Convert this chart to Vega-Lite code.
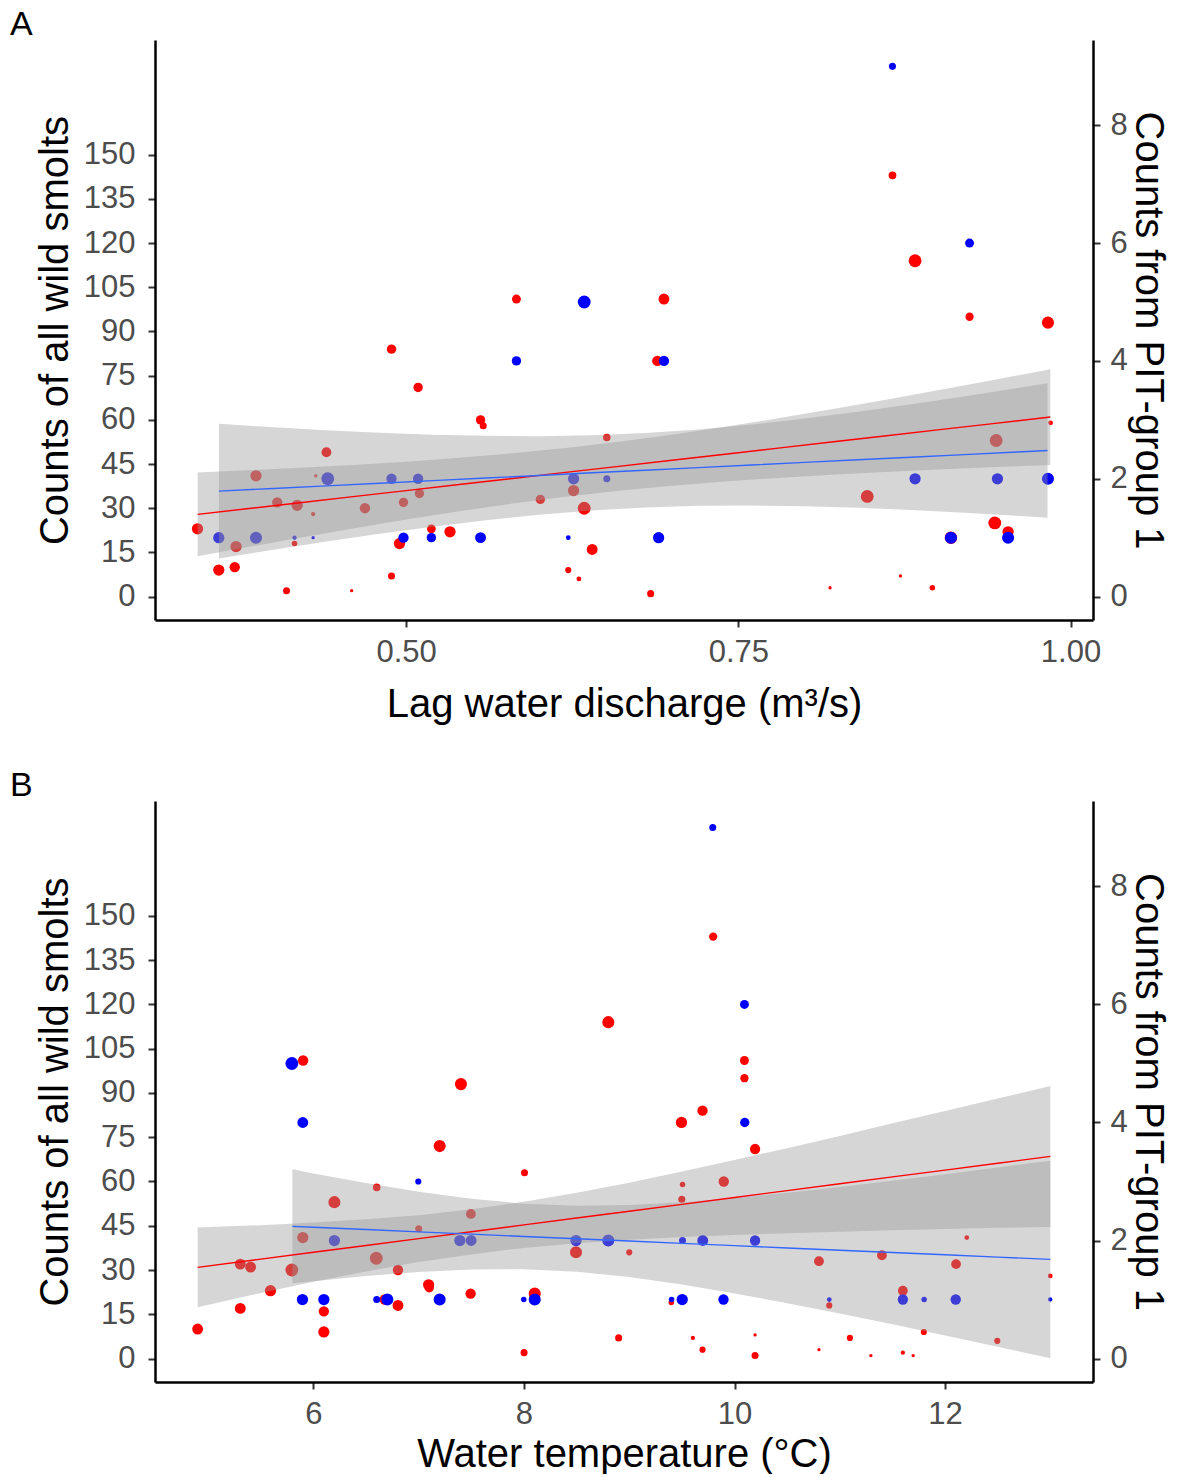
{
  "$schema": "https://vega.github.io/schema/vega-lite/v6.json",
  "padding": {"left": 10, "top": 8, "right": 0, "bottom": 0},
  "background": "white",
  "spacing": 45,
  "config": {
    "view": {"stroke": null},
    "font": "Liberation Sans",
    "axis": {
      "grid": false,
      "domainColor": "black",
      "domainWidth": 2.5,
      "tickColor": "#333333",
      "tickWidth": 2,
      "tickSize": 7,
      "labelFont": "Liberation Sans",
      "labelFontSize": 31,
      "labelColor": "#4D4D4D",
      "labelPadding": 10,
      "titleFont": "Liberation Sans",
      "titleFontSize": 40,
      "titleFontWeight": "normal",
      "titleColor": "black",
      "titlePadding": 12
    },
    "axisLeft": {"labelPadding": 13, "titlePadding": 8},
    "axisRight": {"labelPadding": 10, "titlePadding": 0},
    "title": {"font": "Liberation Sans", "fontSize": 34, "fontWeight": "normal", "color": "black", "anchor": "start", "frame": "group", "dx": -145, "offset": -2, "baseline": "alphabetic"}
  },
  "datasets": {
    "redA": [
      {"x": 0.343, "y": 23, "w": 4}, {"x": 0.359, "y": 9, "w": 4}, {"x": 0.371, "y": 10, "w": 3.5}, {"x": 0.372, "y": 17, "w": 4},
      {"x": 0.387, "y": 41, "w": 4}, {"x": 0.403, "y": 32, "w": 3.5}, {"x": 0.410, "y": 2, "w": 2}, {"x": 0.416, "y": 18, "w": 1.5},
      {"x": 0.418, "y": 31, "w": 4}, {"x": 0.430, "y": 28, "w": 1.2}, {"x": 0.432, "y": 41, "w": 1}, {"x": 0.440, "y": 49, "w": 3.2},
      {"x": 0.459, "y": 2, "w": 1}, {"x": 0.469, "y": 30, "w": 3.5}, {"x": 0.489, "y": 84, "w": 3}, {"x": 0.489, "y": 7, "w": 2},
      {"x": 0.498, "y": 32, "w": 3}, {"x": 0.495, "y": 18, "w": 4}, {"x": 0.509, "y": 71, "w": 3}, {"x": 0.510, "y": 35, "w": 3},
      {"x": 0.519, "y": 23, "w": 2.7}, {"x": 0.533, "y": 22, "w": 4}, {"x": 0.556, "y": 60, "w": 3}, {"x": 0.558, "y": 58, "w": 2},
      {"x": 0.583, "y": 101, "w": 2.8}, {"x": 0.601, "y": 33, "w": 3}, {"x": 0.622, "y": 9, "w": 1.7}, {"x": 0.626, "y": 36, "w": 4},
      {"x": 0.630, "y": 6, "w": 1.3}, {"x": 0.634, "y": 30, "w": 5}, {"x": 0.640, "y": 16, "w": 3.8}, {"x": 0.651, "y": 54, "w": 2.2},
      {"x": 0.684, "y": 1, "w": 2}, {"x": 0.689, "y": 80, "w": 3.5}, {"x": 0.694, "y": 101, "w": 3.8}, {"x": 0.819, "y": 3, "w": 1},
      {"x": 0.847, "y": 34, "w": 5}, {"x": 0.866, "y": 143, "w": 2.3}, {"x": 0.872, "y": 7, "w": 1}, {"x": 0.883, "y": 114, "w": 5},
      {"x": 0.896, "y": 3, "w": 1.5}, {"x": 0.910, "y": 20, "w": 4.8}, {"x": 0.924, "y": 95, "w": 2.5}, {"x": 0.943, "y": 25, "w": 5},
      {"x": 0.944, "y": 53, "w": 5}, {"x": 0.953, "y": 22, "w": 4}, {"x": 0.983, "y": 93, "w": 4.5}, {"x": 0.985, "y": 59, "w": 1.3}
    ],
    "blueA": [
      {"x": 0.359, "y": 1, "w": 4}, {"x": 0.387, "y": 1, "w": 4.5}, {"x": 0.416, "y": 1, "w": 1.2}, {"x": 0.430, "y": 1, "w": 1},
      {"x": 0.441, "y": 2, "w": 5}, {"x": 0.489, "y": 2, "w": 3.5}, {"x": 0.498, "y": 1, "w": 3.5}, {"x": 0.509, "y": 2, "w": 3.5},
      {"x": 0.519, "y": 1, "w": 3}, {"x": 0.556, "y": 1, "w": 3.8}, {"x": 0.583, "y": 4, "w": 3}, {"x": 0.622, "y": 1, "w": 1.3},
      {"x": 0.626, "y": 2, "w": 4}, {"x": 0.634, "y": 5, "w": 5}, {"x": 0.651, "y": 2, "w": 2}, {"x": 0.690, "y": 1, "w": 4},
      {"x": 0.694, "y": 4, "w": 3.5}, {"x": 0.866, "y": 9, "w": 2}, {"x": 0.883, "y": 2, "w": 4}, {"x": 0.910, "y": 1, "w": 4.5},
      {"x": 0.924, "y": 6, "w": 2.8}, {"x": 0.945, "y": 2, "w": 4}, {"x": 0.953, "y": 1, "w": 4.5}, {"x": 0.983, "y": 2, "w": 4.5}
    ],
    "ribRedA": [
      {"x": 0.3431, "lo": 13.68, "hi": 42.12, "fit": 27.90}, {"x": 0.38, "lo": 16.75, "hi": 42.85, "fit": 29.80},
      {"x": 0.42, "lo": 20.00, "hi": 43.72, "fit": 31.86}, {"x": 0.46, "lo": 23.14, "hi": 44.70, "fit": 33.92},
      {"x": 0.50, "lo": 26.15, "hi": 45.81, "fit": 35.98}, {"x": 0.54, "lo": 28.98, "hi": 47.10, "fit": 38.04},
      {"x": 0.58, "lo": 31.57, "hi": 48.63, "fit": 40.10}, {"x": 0.62, "lo": 33.88, "hi": 50.44, "fit": 42.16},
      {"x": 0.66, "lo": 35.89, "hi": 52.55, "fit": 44.22}, {"x": 0.70, "lo": 37.61, "hi": 54.95, "fit": 46.28},
      {"x": 0.74, "lo": 39.06, "hi": 57.62, "fit": 48.34}, {"x": 0.78, "lo": 40.29, "hi": 60.51, "fit": 50.40},
      {"x": 0.82, "lo": 41.35, "hi": 63.57, "fit": 52.46}, {"x": 0.86, "lo": 42.29, "hi": 66.75, "fit": 54.52},
      {"x": 0.90, "lo": 43.13, "hi": 70.03, "fit": 56.58}, {"x": 0.94, "lo": 43.90, "hi": 73.38, "fit": 58.64},
      {"x": 0.9848, "lo": 44.69, "hi": 77.21, "fit": 60.95}
    ],
    "ribBlueA": [
      {"x": 0.3591, "lo": 0.648, "hi": 2.932, "fit": 1.790}, {"x": 0.40, "lo": 0.795, "hi": 2.875, "fit": 1.835},
      {"x": 0.44, "lo": 0.933, "hi": 2.825, "fit": 1.879}, {"x": 0.48, "lo": 1.065, "hi": 2.783, "fit": 1.924},
      {"x": 0.52, "lo": 1.187, "hi": 2.749, "fit": 1.968}, {"x": 0.56, "lo": 1.296, "hi": 2.728, "fit": 2.012},
      {"x": 0.60, "lo": 1.389, "hi": 2.723, "fit": 2.056}, {"x": 0.64, "lo": 1.463, "hi": 2.739, "fit": 2.101},
      {"x": 0.68, "lo": 1.514, "hi": 2.776, "fit": 2.145}, {"x": 0.72, "lo": 1.541, "hi": 2.837, "fit": 2.189},
      {"x": 0.76, "lo": 1.546, "hi": 2.920, "fit": 2.233}, {"x": 0.80, "lo": 1.534, "hi": 3.022, "fit": 2.278},
      {"x": 0.84, "lo": 1.507, "hi": 3.137, "fit": 2.322}, {"x": 0.88, "lo": 1.469, "hi": 3.263, "fit": 2.366},
      {"x": 0.92, "lo": 1.422, "hi": 3.398, "fit": 2.410}, {"x": 0.96, "lo": 1.370, "hi": 3.540, "fit": 2.455},
      {"x": 0.9827, "lo": 1.338, "hi": 3.622, "fit": 2.480}
    ],
    "redB": [
      {"x": 5.902, "y": 101, "w": 3.5}, {"x": 7.401, "y": 93, "w": 4.5}, {"x": 7.199, "y": 72, "w": 4.5}, {"x": 6.601, "y": 58, "w": 2.2},
      {"x": 6.199, "y": 53, "w": 4.5}, {"x": 7.496, "y": 49, "w": 3.2}, {"x": 5.899, "y": 41, "w": 4}, {"x": 7.0, "y": 44, "w": 2},
      {"x": 6.597, "y": 34, "w": 5}, {"x": 5.305, "y": 32, "w": 3.8}, {"x": 5.403, "y": 31, "w": 3.8}, {"x": 5.795, "y": 30, "w": 5},
      {"x": 6.803, "y": 30, "w": 3.5}, {"x": 5.592, "y": 23, "w": 4}, {"x": 7.094, "y": 25, "w": 4}, {"x": 7.100, "y": 24, "w": 3},
      {"x": 7.493, "y": 22, "w": 3.5}, {"x": 6.677, "y": 20, "w": 3.5}, {"x": 6.803, "y": 18, "w": 3.8}, {"x": 5.305, "y": 17, "w": 3.8},
      {"x": 6.099, "y": 16, "w": 3.5}, {"x": 4.900, "y": 10, "w": 3.8}, {"x": 6.099, "y": 9, "w": 4}, {"x": 9.797, "y": 143, "w": 2.5},
      {"x": 8.801, "y": 114, "w": 4.5}, {"x": 10.094, "y": 101, "w": 2.8}, {"x": 10.094, "y": 95, "w": 2.5}, {"x": 9.496, "y": 80, "w": 4},
      {"x": 9.696, "y": 84, "w": 3.5}, {"x": 10.195, "y": 71, "w": 3.5}, {"x": 8.005, "y": 63, "w": 2}, {"x": 9.506, "y": 59, "w": 1.5},
      {"x": 9.898, "y": 60, "w": 3.5}, {"x": 9.499, "y": 54, "w": 2}, {"x": 8.494, "y": 36, "w": 4.5}, {"x": 9.0, "y": 36, "w": 1.7},
      {"x": 8.102, "y": 22, "w": 4.5}, {"x": 9.399, "y": 19, "w": 1.5}, {"x": 8.899, "y": 7, "w": 2}, {"x": 9.604, "y": 7, "w": 1.2},
      {"x": 8.001, "y": 2, "w": 2}, {"x": 9.696, "y": 3, "w": 1.7}, {"x": 10.195, "y": 8, "w": 1}, {"x": 10.195, "y": 1, "w": 2},
      {"x": 10.802, "y": 33, "w": 3.2}, {"x": 11.400, "y": 35, "w": 3.2}, {"x": 12.206, "y": 41, "w": 1.3}, {"x": 12.104, "y": 32, "w": 3.2},
      {"x": 12.999, "y": 28, "w": 1.3}, {"x": 11.599, "y": 23, "w": 3.2}, {"x": 10.900, "y": 18, "w": 1.7}, {"x": 11.798, "y": 9, "w": 1.7},
      {"x": 12.496, "y": 6, "w": 1.7}, {"x": 11.096, "y": 7, "w": 1.7}, {"x": 10.802, "y": 3, "w": 1}, {"x": 11.295, "y": 1, "w": 1},
      {"x": 11.599, "y": 2, "w": 1.2}, {"x": 11.697, "y": 1, "w": 1}
    ],
    "blueB": [
      {"x": 5.795, "y": 5, "w": 5}, {"x": 5.899, "y": 4, "w": 3.8}, {"x": 6.996, "y": 3, "w": 1.7}, {"x": 6.199, "y": 2, "w": 4},
      {"x": 7.391, "y": 2, "w": 4}, {"x": 7.498, "y": 2, "w": 3.8}, {"x": 8.494, "y": 2, "w": 4}, {"x": 8.801, "y": 2, "w": 4.5},
      {"x": 9.506, "y": 2, "w": 2}, {"x": 9.698, "y": 2, "w": 3.8}, {"x": 10.195, "y": 2, "w": 3.5}, {"x": 5.896, "y": 1, "w": 4},
      {"x": 6.099, "y": 1, "w": 4}, {"x": 6.601, "y": 1, "w": 2}, {"x": 6.702, "y": 1, "w": 4.5}, {"x": 7.199, "y": 1, "w": 4.5},
      {"x": 7.998, "y": 1, "w": 1.5}, {"x": 8.102, "y": 1, "w": 4.5}, {"x": 9.402, "y": 1, "w": 1.5}, {"x": 9.503, "y": 1, "w": 4},
      {"x": 9.895, "y": 1, "w": 3.5}, {"x": 10.900, "y": 1, "w": 1.3}, {"x": 11.599, "y": 1, "w": 3.5}, {"x": 11.801, "y": 1, "w": 1.5},
      {"x": 12.101, "y": 1, "w": 3.5}, {"x": 12.999, "y": 1, "w": 1.2}, {"x": 9.793, "y": 9, "w": 2}, {"x": 10.094, "y": 6, "w": 2.8},
      {"x": 10.097, "y": 4, "w": 3}
    ],
    "ribRedB": [
      {"x": 4.9, "lo": 17.4, "hi": 44.4, "fit": 30.90}, {"x": 5.5, "lo": 22.2, "hi": 45.2, "fit": 33.69},
      {"x": 6.0, "lo": 26.0, "hi": 46.1, "fit": 36.01}, {"x": 6.5, "lo": 29.5, "hi": 47.2, "fit": 38.33},
      {"x": 7.0, "lo": 32.7, "hi": 48.6, "fit": 40.65}, {"x": 7.5, "lo": 35.3, "hi": 50.6, "fit": 42.97},
      {"x": 8.0, "lo": 37.5, "hi": 53.1, "fit": 45.30}, {"x": 8.5, "lo": 39.1, "hi": 56.2, "fit": 47.62},
      {"x": 9.0, "lo": 40.3, "hi": 59.6, "fit": 49.94}, {"x": 9.5, "lo": 41.2, "hi": 63.4, "fit": 52.26},
      {"x": 10.0, "lo": 41.9, "hi": 67.3, "fit": 54.58}, {"x": 10.5, "lo": 42.5, "hi": 71.3, "fit": 56.91},
      {"x": 11.0, "lo": 43.0, "hi": 75.4, "fit": 59.23}, {"x": 11.5, "lo": 43.5, "hi": 79.7, "fit": 61.55},
      {"x": 12.0, "lo": 43.9, "hi": 83.9, "fit": 63.87}, {"x": 12.5, "lo": 44.3, "hi": 88.1, "fit": 66.19},
      {"x": 13.0, "lo": 44.6, "hi": 92.4, "fit": 68.52}
    ],
    "ribBlueB": [
      {"x": 5.8, "lo": 1.274, "hi": 3.206, "fit": 2.240}, {"x": 6.0, "lo": 1.311, "hi": 3.137, "fit": 2.224},
      {"x": 6.5, "lo": 1.398, "hi": 2.974, "fit": 2.186}, {"x": 7.0, "lo": 1.467, "hi": 2.827, "fit": 2.147},
      {"x": 7.5, "lo": 1.509, "hi": 2.707, "fit": 2.108}, {"x": 8.0, "lo": 1.513, "hi": 2.625, "fit": 2.069},
      {"x": 8.5, "lo": 1.469, "hi": 2.591, "fit": 2.030}, {"x": 9.0, "lo": 1.380, "hi": 2.602, "fit": 1.991},
      {"x": 9.5, "lo": 1.255, "hi": 2.649, "fit": 1.952}, {"x": 10.0, "lo": 1.104, "hi": 2.722, "fit": 1.913},
      {"x": 10.5, "lo": 0.938, "hi": 2.810, "fit": 1.874}, {"x": 11.0, "lo": 0.762, "hi": 2.908, "fit": 1.835},
      {"x": 11.5, "lo": 0.580, "hi": 3.014, "fit": 1.797}, {"x": 12.0, "lo": 0.392, "hi": 3.124, "fit": 1.758},
      {"x": 12.5, "lo": 0.200, "hi": 3.238, "fit": 1.719}, {"x": 13.0, "lo": 0.007, "hi": 3.353, "fit": 1.680}
    ]
  },
  "vconcat": [
    {
      "width": 938,
      "height": 580,
      "title": {"text": "A"},
      "encoding": {
        "x": {"field": "x", "type": "quantitative", "scale": {"domain": [0.311, 1.0169], "nice": false, "zero": false},
              "axis": {"values": [0.5, 0.75, 1.0], "format": ".2f", "title": "Lag water discharge (m³/s)", "titlePadding": 17}}
      },
      "layer": [
        {"data": {"name": "redA"}, "mark": {"type": "circle", "color": "#FF0000", "opacity": 1},
         "encoding": {
           "y": {"field": "y", "type": "quantitative", "scale": {"domain": [-7.95, 188.95], "nice": false, "zero": false},
                 "axis": {"values": [0, 15, 30, 45, 60, 75, 90, 105, 120, 135, 150], "title": "Counts of all wild smolts"}},
           "size": {"field": "w", "type": "quantitative", "scale": {"domain": [1, 5], "range": [11, 165]}, "legend": null}}},
        {"data": {"name": "blueA"}, "mark": {"type": "circle", "color": "#0000FF", "opacity": 1},
         "encoding": {
           "y": {"field": "y", "type": "quantitative", "scale": {"domain": [-0.3975, 9.4475], "nice": false, "zero": false},
                 "axis": {"orient": "right", "values": [0, 2, 4, 6, 8], "title": "Counts from PIT-group 1"}},
           "size": {"field": "w", "type": "quantitative", "scale": {"domain": [1, 5], "range": [11, 165]}, "legend": null}}},
        {"data": {"name": "ribRedA"}, "mark": {"type": "area", "color": "#999999", "opacity": 0.4},
         "encoding": {
           "y": {"field": "hi", "type": "quantitative", "scale": {"domain": [-7.95, 188.95], "nice": false, "zero": false}, "axis": null},
           "y2": {"field": "lo"}}},
        {"data": {"name": "ribBlueA"}, "mark": {"type": "area", "color": "#999999", "opacity": 0.4},
         "encoding": {
           "y": {"field": "hi", "type": "quantitative", "scale": {"domain": [-0.3975, 9.4475], "nice": false, "zero": false}, "axis": null},
           "y2": {"field": "lo"}}},
        {"data": {"name": "ribRedA"}, "mark": {"type": "line", "color": "#FF0000", "strokeWidth": 1.4},
         "encoding": {
           "y": {"field": "fit", "type": "quantitative", "scale": {"domain": [-7.95, 188.95], "nice": false, "zero": false}, "axis": null}}},
        {"data": {"name": "ribBlueA"}, "mark": {"type": "line", "color": "#3366FF", "strokeWidth": 1.4},
         "encoding": {
           "y": {"field": "fit", "type": "quantitative", "scale": {"domain": [-0.3975, 9.4475], "nice": false, "zero": false}, "axis": null}}}
      ],
      "resolve": {"scale": {"y": "independent"}}
    },
    {
      "width": 938,
      "height": 581,
      "title": {"text": "B"},
      "encoding": {
        "x": {"field": "x", "type": "quantitative", "scale": {"domain": [4.495, 13.405], "nice": false, "zero": false},
              "axis": {"values": [6, 8, 10, 12], "format": "d", "title": "Water temperature (°C)", "titlePadding": 5}}
      },
      "layer": [
        {"data": {"name": "redB"}, "mark": {"type": "circle", "color": "#FF0000", "opacity": 1},
         "encoding": {
           "y": {"field": "y", "type": "quantitative", "scale": {"domain": [-7.95, 188.95], "nice": false, "zero": false},
                 "axis": {"values": [0, 15, 30, 45, 60, 75, 90, 105, 120, 135, 150], "title": "Counts of all wild smolts"}},
           "size": {"field": "w", "type": "quantitative", "scale": {"domain": [1, 5], "range": [11, 165]}, "legend": null}}},
        {"data": {"name": "blueB"}, "mark": {"type": "circle", "color": "#0000FF", "opacity": 1},
         "encoding": {
           "y": {"field": "y", "type": "quantitative", "scale": {"domain": [-0.3975, 9.4475], "nice": false, "zero": false},
                 "axis": {"orient": "right", "values": [0, 2, 4, 6, 8], "title": "Counts from PIT-group 1"}},
           "size": {"field": "w", "type": "quantitative", "scale": {"domain": [1, 5], "range": [11, 165]}, "legend": null}}},
        {"data": {"name": "ribRedB"}, "mark": {"type": "area", "color": "#999999", "opacity": 0.4},
         "encoding": {
           "y": {"field": "hi", "type": "quantitative", "scale": {"domain": [-7.95, 188.95], "nice": false, "zero": false}, "axis": null},
           "y2": {"field": "lo"}}},
        {"data": {"name": "ribBlueB"}, "mark": {"type": "area", "color": "#999999", "opacity": 0.4},
         "encoding": {
           "y": {"field": "hi", "type": "quantitative", "scale": {"domain": [-0.3975, 9.4475], "nice": false, "zero": false}, "axis": null},
           "y2": {"field": "lo"}}},
        {"data": {"name": "ribRedB"}, "mark": {"type": "line", "color": "#FF0000", "strokeWidth": 1.4},
         "encoding": {
           "y": {"field": "fit", "type": "quantitative", "scale": {"domain": [-7.95, 188.95], "nice": false, "zero": false}, "axis": null}}},
        {"data": {"name": "ribBlueB"}, "mark": {"type": "line", "color": "#3366FF", "strokeWidth": 1.4},
         "encoding": {
           "y": {"field": "fit", "type": "quantitative", "scale": {"domain": [-0.3975, 9.4475], "nice": false, "zero": false}, "axis": null}}}
      ],
      "resolve": {"scale": {"y": "independent"}}
    }
  ]
}
